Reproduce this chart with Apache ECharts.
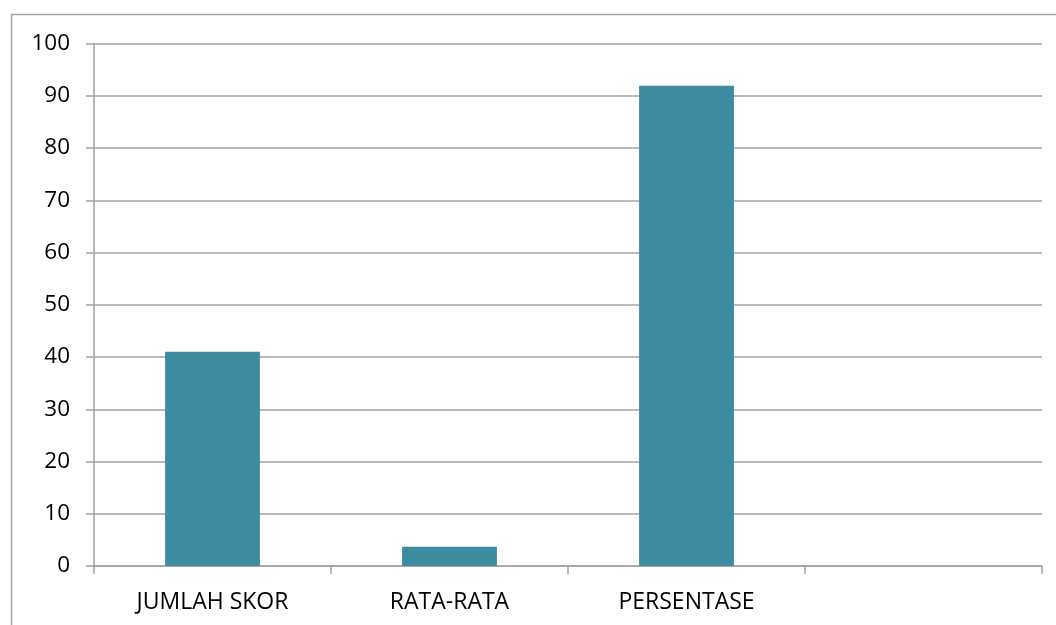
<!DOCTYPE html>
<html>
<head>
<meta charset="utf-8">
<script src="https://cdn.jsdelivr.net/npm/echarts@6/dist/echarts.min.js"></script>
<style>
  html, body { margin: 0; padding: 0; background: #ffffff; }
  #chart { width: 1056px; height: 625px; }
</style>
</head>
<body>
<div id="chart"></div>
<script>
// Category labels (the last slot is left empty)
const categories = ['JUMLAH SKOR', 'RATA-RATA', 'PERSENTASE', ''];
// Bar values
const values = [41, 3.67, 91.9, null];
// Value axis range
const yMin = 0;
const yMax = 100;
const yStep = 10;

const lineGray = '#a3a3a3';
const textFont = '"Open Sans", "Liberation Sans", sans-serif';

const chart = echarts.init(document.getElementById('chart'), null, { renderer: 'canvas' });

chart.setOption({
  animation: false,
  backgroundColor: '#ffffff',
  graphic: [{
    type: 'rect',
    shape: { x: 11.5, y: 14.5, width: 1200, height: 800 },
    style: { fill: 'none', stroke: lineGray, lineWidth: 1.5 },
    silent: true
  }],
  grid: { left: 94, right: 14, top: 43.5, bottom: 59, containLabel: false },
  xAxis: {
    type: 'category',
    data: categories,
    boundaryGap: true,
    axisLine: { show: true, lineStyle: { color: lineGray, width: 1.5 } },
    axisTick: { show: true, alignWithLabel: false, interval: 0, length: 8, lineStyle: { color: lineGray, width: 1.5 } },
    axisLabel: { interval: 0, color: '#000000', fontFamily: textFont, fontSize: 23, margin: 25 },
    splitLine: { show: false }
  },
  yAxis: {
    type: 'value',
    min: yMin,
    max: yMax,
    interval: yStep,
    axisLine: { show: true, lineStyle: { color: lineGray, width: 1.5 } },
    axisTick: { show: true, length: 8, lineStyle: { color: lineGray, width: 1.5 } },
    axisLabel: { color: '#000000', fontFamily: textFont, fontSize: 22.5, margin: 24 },
    splitLine: { show: true, lineStyle: { color: lineGray, width: 1.5 } }
  },
  series: [{
    type: 'bar',
    data: values,
    barWidth: '40%',
    itemStyle: { color: '#3c8ba1' }
  }]
});
</script>
</body>
</html>
